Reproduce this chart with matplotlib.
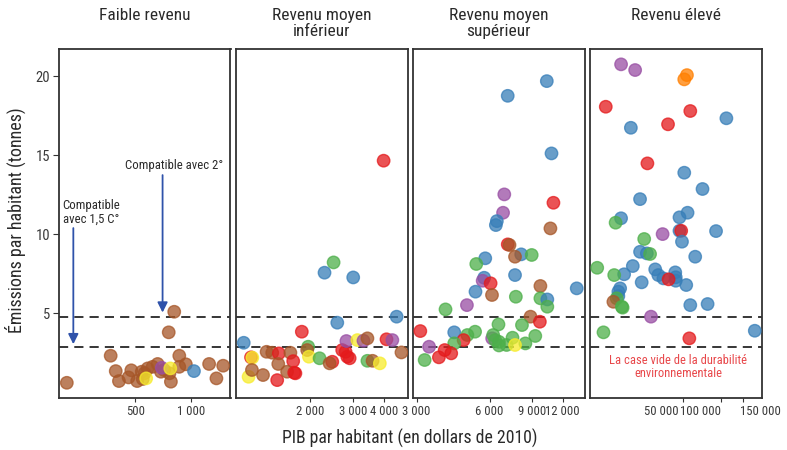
import matplotlib
matplotlib.use("Agg")
import matplotlib.pyplot as plt
import matplotlib.transforms as mtransforms
from matplotlib import font_manager as fm
import numpy as np

names = sorted({f.name for f in fm.fontManager.ttflist})
fam = None
for cand in ['Liberation Sans Narrow', 'Roboto Condensed', 'DejaVu Sans Condensed', 'Roboto']:
    if cand in names:
        fam = cand
        break

plt.rcParams['font.family'] = [fam, 'DejaVu Sans']

COLORS = {'brown': '#A65628', 'blue': '#377EB8', 'green': '#4DAF4A', 'red': '#E41A1C',
          'purple': '#984EA3', 'orange': '#FF7F00', 'yellow': '#F7EC2C'}

panel_titles = ["Faible revenu", "Revenu moyen\ninférieur", "Revenu moyen\nsupérieur", "Revenu élevé"]

# ---- Low income
low_gdp = [213, 813, 759, 368, 392, 408, 476, 460, 512, 542, 549, 584, 621, 661, 689, 766, 780, 866,
           866, 940, 1256, 1376, 1497, 561, 717, 696, 774, 573, 1040]
low_co2 = [0.61, 5.10, 3.80, 2.32, 1.35, 0.72, 1.40, 0.95, 0.72, 1.31, 0.85, 1.52, 1.62, 1.80, 1.31, 1.21, 0.68, 2.32,
           1.62, 1.78, 1.80, 0.89, 1.69, 1.21, 1.42, 1.56, 1.52, 0.89, 1.35]
low_region = ['brown'] * 25 + ['purple', 'yellow', 'yellow', 'blue']

# ---- Lower-middle income
lmid_gdp = [1070, 1146, 1160, 1120, 1156, 1283, 1327, 1399, 1489, 1481, 1466, 1660, 1704, 1609, 1740, 1720,
            1848, 1962, 1944, 1976, 2184, 2461, 2400, 2580, 2702, 2790, 2835, 2898, 2811, 3118, 3300, 3426,
            3426, 3595, 3850, 4099, 4331, 4509, 4718, 3990, 2492, 2288, 2997]
lmid_co2 = [3.14, 2.22, 2.20, 0.99, 1.42, 1.10, 2.57, 2.51, 2.47, 1.80, 0.78, 2.51, 1.98, 1.31, 1.21, 1.25,
            3.84, 2.89, 2.68, 2.26, 2.16, 1.94, 1.84, 4.41, 2.68, 2.57, 2.26, 2.16, 3.25, 3.31, 3.27, 3.42,
            2.00, 2.00, 1.84, 3.36, 3.31, 4.79, 2.53, 14.65, 8.22, 7.57, 7.27]
lmid_region = ['blue', 'red', 'yellow', 'yellow', 'brown', 'brown', 'brown', 'brown', 'red', 'brown', 'red',
               'brown', 'red', 'brown', 'red', 'red', 'red', 'green', 'brown', 'yellow', 'green', 'red',
               'brown', 'blue', 'red', 'red', 'red', 'red', 'purple', 'yellow', 'purple', 'brown', 'green',
               'brown', 'yellow', 'red', 'purple', 'blue', 'brown', 'red', 'green', 'blue', 'blue']

# ---- Upper-middle income
umid_gdp = [10330, 7128, 10800, 6900, 11000, 6820, 6430, 6370, 10690, 7130, 7250, 8100, 7640, 8950, 5760,
            5290, 7640, 5700, 5620, 6060, 5250, 6140, 7700, 9720, 9720, 10380, 10380, 13720, 4840, 3950,
            8850, 9670, 3110, 4290, 4860, 5230, 6530, 8160, 9260, 4690, 4290, 3380, 3240, 3710, 3920, 4170,
            6150, 6210, 6560, 6560, 7050, 7460, 8430, 6330, 7640]
umid_co2 = [19.68, 18.75, 15.11, 12.52, 11.99, 11.36, 10.83, 10.58, 10.37, 9.36, 9.32, 8.73, 8.58, 8.69, 8.48,
            8.12, 7.42, 7.25, 7.06, 6.90, 6.37, 6.16, 6.05, 6.73, 5.95, 5.88, 5.42, 6.58, 5.52, 5.25,
            4.79, 4.47, 3.88, 3.80, 3.63, 3.84, 4.30, 4.26, 3.57, 3.31, 3.10, 2.89, 2.05, 2.22, 2.68, 2.47,
            3.42, 3.63, 3.20, 2.97, 3.00, 3.46, 3.10, 3.31, 3.00]
umid_region = ['blue', 'blue', 'blue', 'purple', 'red', 'purple', 'blue', 'blue', 'brown', 'red', 'brown',
               'blue', 'brown', 'green', 'blue', 'green', 'blue', 'blue', 'purple', 'red', 'blue', 'brown',
               'green', 'brown', 'green', 'blue', 'green', 'blue', 'purple', 'green', 'brown', 'red', 'red',
               'blue', 'green', 'green', 'green', 'green', 'green', 'red', 'green', 'purple', 'green', 'red',
               'red', 'red', 'purple', 'green', 'green', 'green', 'green', 'green', 'green', 'green', 'yellow']

# ---- High income
high_gdp = [16040, 20770, 53800, 51200, 12110, 57200, 111000, 19200, 38000, 26020, 51200, 71600, 22730,
            16040, 14510, 54400, 46900, 46900, 48400, 49100, 91800, 34400, 24530, 22730, 25750, 27320,
            62600, 10350, 19900, 30030, 31800, 43400, 43800, 43800, 34900, 38400, 16970, 14140, 23420,
            53100, 15770, 15260, 15260, 14800, 13930, 16270, 16500, 57200, 78600, 27800, 11610, 56200, 187000]
high_co2 = [20.74, 20.38, 20.06, 19.79, 18.06, 17.79, 17.33, 16.73, 16.95, 14.48, 13.89, 12.86, 12.22,
            11.01, 10.73, 11.36, 11.07, 10.22, 10.22, 9.53, 10.20, 10.01, 9.70, 8.89, 8.79, 8.75,
            8.58, 7.88, 7.99, 7.78, 7.42, 7.59, 7.28, 7.06, 7.21, 7.15, 7.47, 7.42, 6.96,
            6.79, 6.58, 6.37, 6.09, 5.95, 5.73, 5.42, 5.36, 5.52, 5.59, 4.79, 3.80, 3.42, 3.90]
high_region = ['purple', 'purple', 'orange', 'orange', 'red', 'red', 'blue', 'blue', 'red', 'red', 'blue',
               'blue', 'blue', 'blue', 'green', 'blue', 'blue', 'blue', 'red', 'blue', 'blue', 'purple',
               'green', 'blue', 'blue', 'green', 'blue', 'green', 'blue', 'blue', 'blue', 'blue', 'blue',
               'blue', 'blue', 'red', 'blue', 'green', 'blue', 'blue', 'blue', 'blue', 'blue', 'green',
               'brown', 'green', 'green', 'blue', 'blue', 'purple', 'green', 'red', 'blue']

panels_data = [(low_gdp, low_co2, low_region), (lmid_gdp, lmid_co2, lmid_region),
               (umid_gdp, umid_co2, umid_region), (high_gdp, high_co2, high_region)]

x_ticks = [[500, 1000], [2000, 3000, 4000], [3000, 6000, 9000, 12000], [50000, 100000, 150000]]
x_tick_align = [['center', 'center'], ['center', 'center', 'center'],
                ['center', 'center', 'center', 'center'], ['right', 'right', 'left']]
x_tick_shift = [[0, 0], [0, 0, 0], [0, 0, 0, 0], [-4, 0, -3]]
x_limits = [(192, 1640), (995, 5018), (2893, 14800), (9065, 213500)]
y_ticks = [5, 10, 15, 20]
y_limits = (-0.37, 21.71)
thresholds = [4.8, 2.9]

W, H = 787, 450
fig = plt.figure(figsize=(W / 100, H / 100), dpi=100)
lefts = [58.5, 236, 412.7, 590]
pw = 172
bottom_px, top_px = 398.3, 49

def fmt(v):
    return f"{int(v):,}".replace(",", " ")

axes = []
for i, (gdp, co2, reg) in enumerate(panels_data):
    ax = fig.add_axes([lefts[i] / W, 1 - bottom_px / H, pw / W, (bottom_px - top_px) / H])
    axes.append(ax)
    ax.set_xscale('log')
    ax.set_xlim(*x_limits[i])
    ax.set_ylim(*y_limits)
    for t in thresholds:
        ax.axhline(t, color='black', lw=1.1, dashes=(6, 4), zorder=1)
    cols = [COLORS[r] for r in reg]
    ax.scatter(gdp, co2, s=80, c=cols, alpha=0.75, edgecolors=cols, linewidths=1.0, zorder=3)
    ax.xaxis.set_minor_locator(matplotlib.ticker.NullLocator())
    ax.set_xticks(x_ticks[i])
    ax.set_xticklabels([fmt(v) for v in x_ticks[i]])
    ax.tick_params(axis='x', length=3, width=0.8, color='#333333', labelsize=9.2,
                   labelcolor='#3a3a3a', pad=2)
    for lab, al, dx in zip(ax.get_xticklabels(), x_tick_align[i], x_tick_shift[i]):
        lab.set_horizontalalignment(al)
        if dx:
            lab.set_transform(lab.get_transform() +
                              mtransforms.ScaledTranslation(dx / 100, 0, fig.dpi_scale_trans))
    if i == 0:
        ax.set_yticks(y_ticks)
        ax.tick_params(axis='y', length=4, width=0.8, color='#333333', labelsize=10.5,
                       labelcolor='#3a3a3a', pad=2)
    else:
        ax.set_yticks([])
    for sp in ax.spines.values():
        sp.set_color('#333333')
        sp.set_linewidth(1.3)
    ax.text(0.5, 1 + (top_px - 8) / (bottom_px - top_px), panel_titles[i], transform=ax.transAxes,
            ha='center', va='top', fontsize=12.5, color='#2a2a2a', linespacing=1.1)

# annotations in panel 1
ax0 = axes[0]
ax0.annotate('', xy=(703, 5.05), xytext=(703, 13.74),
             arrowprops=dict(arrowstyle='-|>', color='#2f52aa', lw=1.3, mutation_scale=15,
                             shrinkA=0, shrinkB=0))
ax0.text(808, 14.33, 'Compatible avec 2°', ha='center', va='center', fontsize=9.2, color='#2a2a2a')
ax0.annotate('', xy=(231, 3.05), xytext=(231, 10.39),
             arrowprops=dict(arrowstyle='-|>', color='#2f52aa', lw=1.3, mutation_scale=15,
                             shrinkA=0, shrinkB=0))
ax0.text(288, 11.38, 'Compatible\navec 1,5 C°', ha='center', va='center', fontsize=9.2,
         color='#2a2a2a', linespacing=1.0)

axes[3].text(0.513, 1.6, 'La case vide de la durabilité\nenvironnementale', transform=axes[3].get_yaxis_transform(),
             ha='center', va='center', fontsize=9.0, color='#E8474A', linespacing=1.05)

fig.text(0.5 * (58.5 + 761.5) / W, 1 - 438 / H, 'PIB par habitant (en dollars de 2010)', ha='center',
         va='center', fontsize=12.7, color='#2a2a2a')
fig.text(15 / W, 1 - 220 / H, 'Émissions par habitant (tonnes)', ha='center', va='center',
         rotation=90, fontsize=13, color='#2a2a2a')

fig.savefig('out.png', dpi=100)
